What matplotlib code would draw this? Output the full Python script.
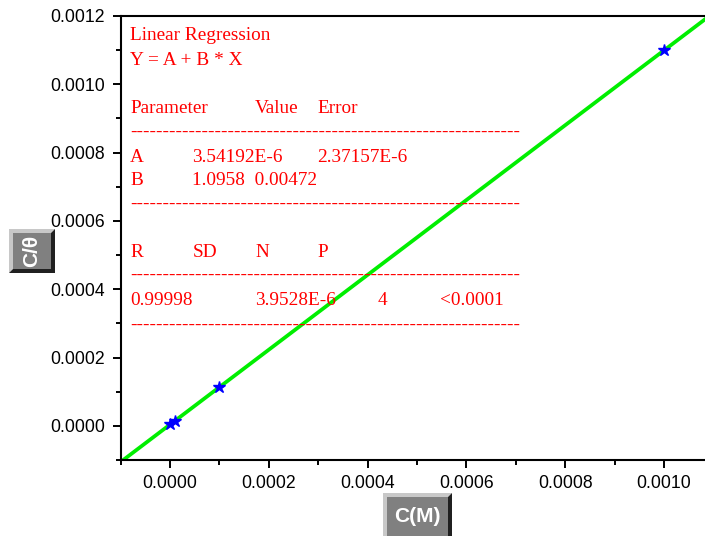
import numpy as np
import matplotlib.pyplot as plt
from matplotlib.patches import Polygon, Rectangle
from matplotlib.ticker import MultipleLocator, FormatStrFormatter

W, H = 705, 536

# measured data
conc = [0.000001, 0.00001, 0.0001, 0.001]
c_theta = [0.0000046, 0.0000148, 0.0001131, 0.0010993]

# linear fit results
A = 3.54192e-6
B = 1.0958

fit_rows = [
    ("Linear Regression", [(130, "Linear Regression")], 40.5),
    ("eq", [(130, "Y = A + B * X")], 65),
    ("head", [(130, "Parameter"), (255, "Value"), (317, "Error")], 113),
    ("dash", [(130, "-" * 60)], 137),
    ("A", [(130, "A"), (192.5, "3.54192E-6"), (317, "2.37157E-6")], 162),
    ("B", [(130, "B"), (192.5, "1.0958  0.00472")], 185),
    ("dash", [(130, "-" * 60)], 209),
    ("stat", [(130, "R"), (192.5, "SD"), (255, "N"), (317, "P")], 257),
    ("dash", [(130, "-" * 60)], 280),
    ("vals", [(130, "0.99998"), (255, "3.9528E-6"), (378, "4"), (440.5, "<0.0001")], 305),
    ("dash", [(130, "-" * 60)], 330),
]

plt.rcParams['font.family'] = ['Liberation Sans', 'DejaVu Sans']

fig = plt.figure(figsize=(W / 100, H / 100), dpi=100)
ax = fig.add_axes([120.5 / W, 1 - 460 / H, (713.4 - 120.5) / W, (460 - 16) / H])

xfit = np.array([-0.0001, 0.0011])
ax.plot(xfit, A + B * xfit, color='#00ee00', lw=2.7, zorder=2)
ax.plot(conc, c_theta, '*', color='blue', ms=9, zorder=3)

ax.set_xlim(-0.0001, 0.0011)
ax.set_ylim(-0.0001, 0.0012)
ax.xaxis.set_major_locator(MultipleLocator(0.0002))
ax.xaxis.set_minor_locator(MultipleLocator(0.0001))
ax.yaxis.set_major_locator(MultipleLocator(0.0002))
ax.yaxis.set_minor_locator(MultipleLocator(0.0001))
ax.xaxis.set_major_formatter(FormatStrFormatter('%.4f'))
ax.yaxis.set_major_formatter(FormatStrFormatter('%.4f'))
ax.tick_params(which='major', direction='out', length=6, width=1.4, labelsize=12.7, pad=5)
ax.tick_params(which='minor', direction='out', length=3.5, width=1.4)
for s in ax.spines.values():
    s.set_linewidth(1.5)


def px(x, y):
    return x / W, 1 - y / H


def bevel_box(x0, y0, x1, y1, text, rot=0, b=4):
    light = Polygon([px(x0, y0), px(x1, y0), px(x1 - b, y0 + b), px(x0 + b, y0 + b),
                     px(x0 + b, y1 - b), px(x0, y1)], closed=True,
                    transform=fig.transFigure, facecolor='#c8c8c8', edgecolor='none')
    dark = Polygon([px(x1, y0), px(x1, y1), px(x0, y1), px(x0 + b, y1 - b),
                    px(x1 - b, y1 - b), px(x1 - b, y0 + b)], closed=True,
                   transform=fig.transFigure, facecolor='#202020', edgecolor='none')
    face = Rectangle(px(x0 + b, y1 - b), (x1 - x0 - 2 * b) / W, (y1 - y0 - 2 * b) / H,
                     transform=fig.transFigure, facecolor='#808080', edgecolor='none')
    for p in (light, dark, face):
        fig.patches.append(p)
    cx, cy = px((x0 + x1) / 2, (y0 + y1) / 2)
    fig.text(cx, cy, text, color='white', fontsize=15, fontweight='bold',
             rotation=rot, ha='center', va='center')


bevel_box(9, 229, 55, 273, "C/θ", rot=90)
bevel_box(383, 493, 452, 541, "C(M)")

for name, cells, base in fit_rows:
    for x, s in cells:
        fx, fy = px(x, base)
        fig.text(fx, fy, s, color='red', fontsize=13.9, family='Liberation Serif',
                 ha='left', va='baseline')

fig.savefig('out.png', dpi=100)
